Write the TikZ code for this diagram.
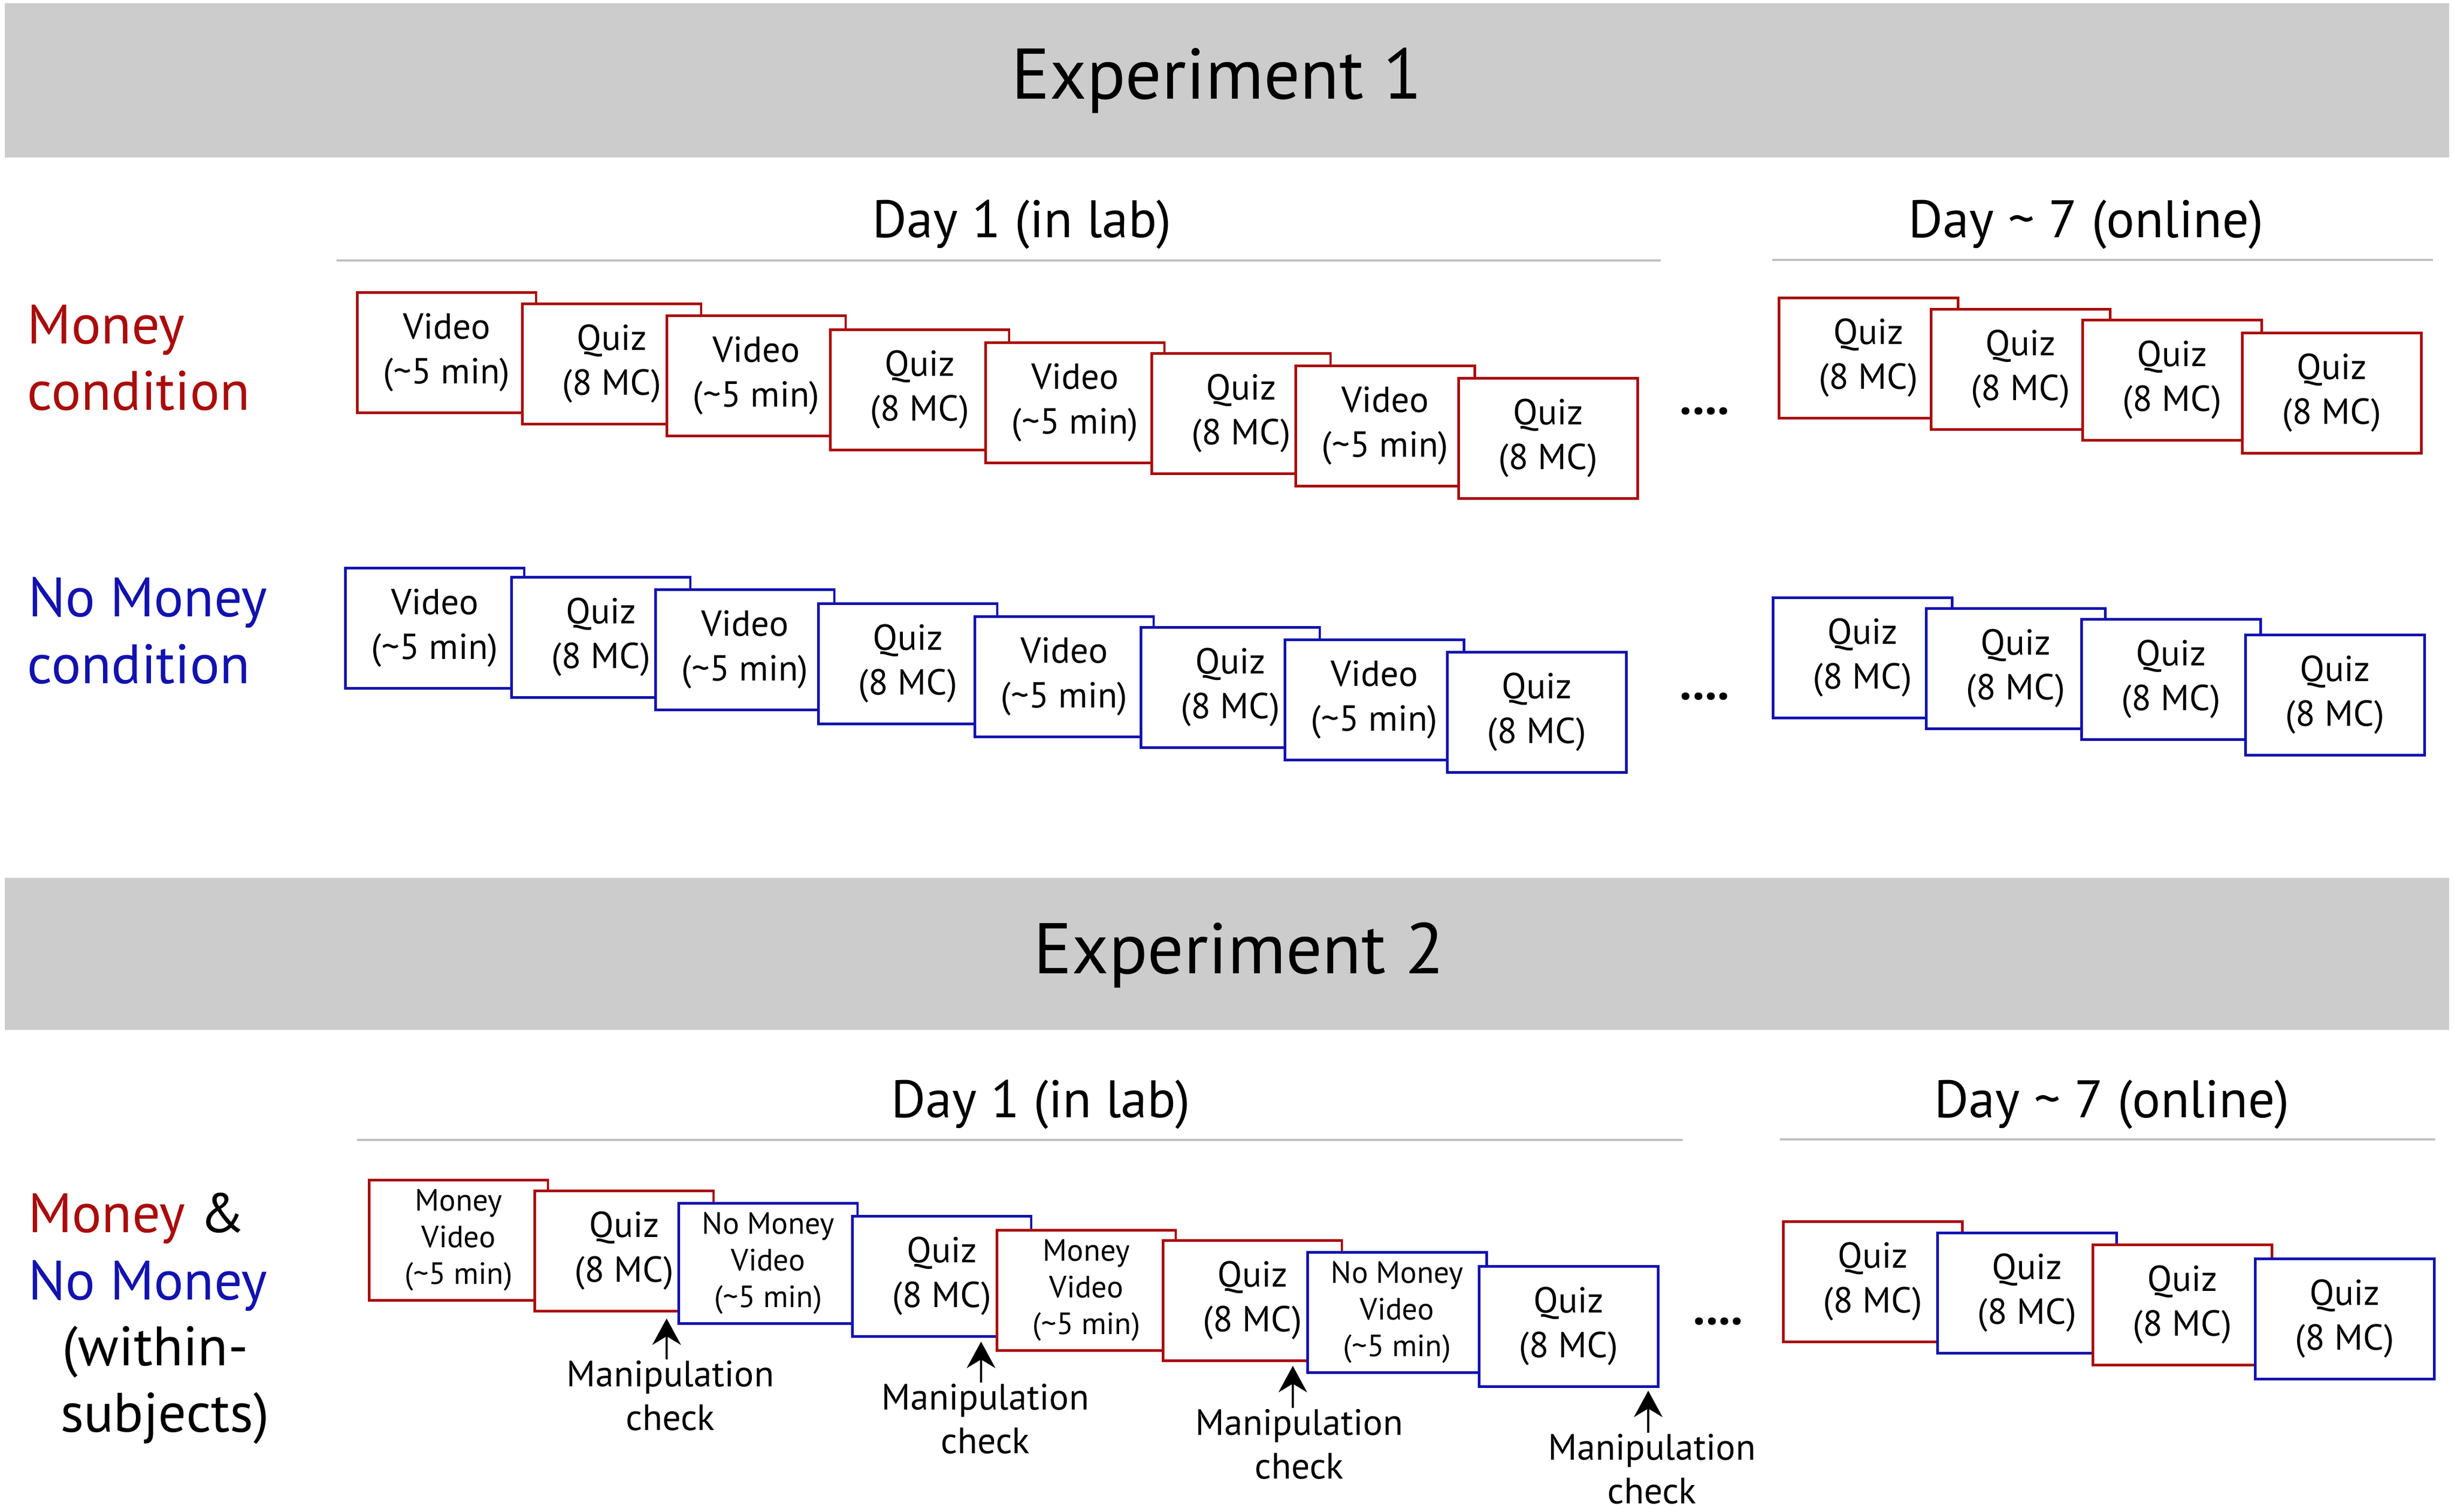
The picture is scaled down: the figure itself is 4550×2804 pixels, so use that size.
\documentclass[tikz,border=0pt]{standalone}
\usepackage{fontspec}
\setmainfont{PT Sans}
\usetikzlibrary{arrows.meta}
\definecolor{mred}{RGB}{170,12,12}
\definecolor{mblue}{RGB}{18,18,175}
\definecolor{bannergray}{RGB}{204,204,204}
\definecolor{rulegray}{RGB}{192,192,192}
\newcommand\vidtxt{Video\\(\textasciitilde5 min)}
\newcommand\quiztxt{Quiz\\(8 MC)}
\newcommand\mvidtxt{Money\\Video\\(\textasciitilde5 min)}
\newcommand\nmvidtxt{No Money\\Video\\(\textasciitilde5 min)}
\begin{document}
\begin{tikzpicture}[x=0.1pt,y=-0.1pt,
  card/.style={draw, fill=white, line width=0.45pt, minimum width=33.2pt, minimum height=22.3pt,
    inner sep=0pt, anchor=north west, align=center, font=\fontsize{6.7}{8.3}\selectfont},
  rcard/.style={card, draw=mred},
  bcard/.style={card, draw=mblue},
  smalltxt/.style={font=\fontsize{5.7}{6.8}\selectfont},
  title/.style={inner sep=0pt, anchor=base, font=\fontsize{13.3}{16}\selectfont},
  daylbl/.style={inner sep=0pt, anchor=base, font=\fontsize{9.8}{12}\selectfont},
  cond/.style={inner sep=0pt, anchor=base west, font=\fontsize{10.3}{12}\selectfont},
  manip/.style={inner sep=0pt, anchor=north, align=center, font=\fontsize{6.8}{8.1}\selectfont},
  dotsl/.style={inner sep=0pt, anchor=base, font=\fontsize{9}{10}\selectfont\bfseries},
  dayrule/.style={draw=rulegray, line width=0.4pt},
  arr/.style={line width=0.35pt, -{Stealth[length=4.9pt,width=5.3pt]}}
]
\useasboundingbox (0,0) rectangle (4550,2804);
\fill[white] (0,0) rectangle (4550,2804);

% ---------- Experiment 1 ----------
\fill[bannergray] (9,6) rectangle (4541,292);
\node[title] (e1) at (2256,183) {Experiment 1};

\node[daylbl] (e1d1) at (1895,440) {Day 1 (in lab)};
\node[daylbl] (e1d7) at (3868,440) {Day \textasciitilde{} 7 (online)};
\coordinate (r1a) at (624,483); \coordinate (r1b) at (3079,483);
\coordinate (r1c) at (3286,482); \coordinate (r1d) at (4511,482);
\draw[dayrule] (r1a) -- (r1b);
\draw[dayrule] (r1c) -- (r1d);

\node[cond, text=mred] (lm1) at (49,637) {Money};
\node[cond, text=mred] (lm2) at (49,760) {condition};
\node[cond, text=mblue] (ln1) at (50,1143) {No Money};
\node[cond, text=mblue] (ln2) at (49,1267) {condition};

% Money row day 1
\node[rcard] (m1) at (660,540) {\vidtxt};
\node[rcard] (m2) at (966,561) {\quiztxt};
\node[rcard] (m3) at (1234,583) {\vidtxt};
\node[rcard] (m4) at (1537,609) {\quiztxt};
\node[rcard] (m5) at (1825,633) {\vidtxt};
\node[rcard] (m6) at (2133,653) {\quiztxt};
\node[rcard] (m7) at (2400,676) {\vidtxt};
\node[rcard] (m8) at (2702,699) {\quiztxt};
\node[dotsl] (md) at (3161,768) {....};
% Money row day 7
\node[rcard] (mo1) at (3296,550) {\quiztxt};
\node[rcard] (mo2) at (3578,571) {\quiztxt};
\node[rcard] (mo3) at (3859,591) {\quiztxt};
\node[rcard] (mo4) at (4155,615) {\quiztxt};

% No Money row day 1
\node[bcard] (n1) at (638,1051) {\vidtxt};
\node[bcard] (n2) at (946,1068) {\quiztxt};
\node[bcard] (n3) at (1213,1091) {\vidtxt};
\node[bcard] (n4) at (1515,1117) {\quiztxt};
\node[bcard] (n5) at (1805,1141) {\vidtxt};
\node[bcard] (n6) at (2113,1161) {\quiztxt};
\node[bcard] (n7) at (2380,1184) {\vidtxt};
\node[bcard] (n8) at (2681,1207) {\quiztxt};
\node[dotsl] (nd) at (3161,1297) {....};
% No Money row day 7
\node[bcard] (no1) at (3285,1106) {\quiztxt};
\node[bcard] (no2) at (3569,1126) {\quiztxt};
\node[bcard] (no3) at (3857,1146) {\quiztxt};
\node[bcard] (no4) at (4161,1175) {\quiztxt};

% ---------- Experiment 2 ----------
\fill[bannergray] (9,1628) rectangle (4541,1910);
\node[title] (e2) at (2297,1805) {Experiment 2};

\node[daylbl] (e2d1) at (1930,2072) {Day 1 (in lab)};
\node[daylbl] (e2d7) at (3916,2072) {Day \textasciitilde{} 7 (online)};
\coordinate (r2a) at (662,2114); \coordinate (r2b) at (3120,2114);
\coordinate (r2c) at (3300,2113); \coordinate (r2d) at (4515,2113);
\draw[dayrule] (r2a) -- (r2b);
\draw[dayrule] (r2c) -- (r2d);

\node[cond] (w1) at (50,2285) {\textcolor{mred}{Money} \&};
\node[cond, text=mblue] (w2) at (50,2410) {No Money};
\node[cond] (w3) at (114,2532) {(within-};
\node[cond] (w4) at (110,2655) {subjects)};

\node[rcard, smalltxt] (x1) at (682,2186) {\mvidtxt};
\node[rcard] (x2) at (989,2206) {\quiztxt};
\node[bcard, smalltxt] (x3) at (1256,2229) {\nmvidtxt};
\node[bcard] (x4) at (1578,2253) {\quiztxt};
\node[rcard, smalltxt] (x5) at (1846,2279) {\mvidtxt};
\node[rcard] (x6) at (2154,2298) {\quiztxt};
\node[bcard, smalltxt] (x7) at (2422,2320) {\nmvidtxt};
\node[bcard] (x8) at (2740,2346) {\quiztxt};
\node[dotsl] (xd) at (3186,2456) {....};

\node[rcard] (xo1) at (3304,2263) {\quiztxt};
\node[bcard] (xo2) at (3590,2284) {\quiztxt};
\node[rcard] (xo3) at (3878,2306) {\quiztxt};
\node[bcard] (xo4) at (4179,2332) {\quiztxt};

% Manipulation checks
\coordinate (t1) at (1236,2445);
\coordinate (t2) at (1819,2488);
\coordinate (t3) at (2397,2533);
\coordinate (t4) at (3056,2579);
\node[manip] (c1) at (1243,2521) {Manipulation\\check};
\node[manip] (c2) at (1827,2564) {Manipulation\\check};
\node[manip] (c3) at (2409,2611) {Manipulation\\check};
\node[manip] (c4) at (3063,2657) {Manipulation\\check};
\draw[arr] (c1.north -| t1) -- (t1);
\draw[arr] (c2.north -| t2) -- (t2);
\draw[arr] (c3.north -| t3) -- (t3);
\draw[arr] (c4.north -| t4) -- (t4);
\end{tikzpicture}
\end{document}
